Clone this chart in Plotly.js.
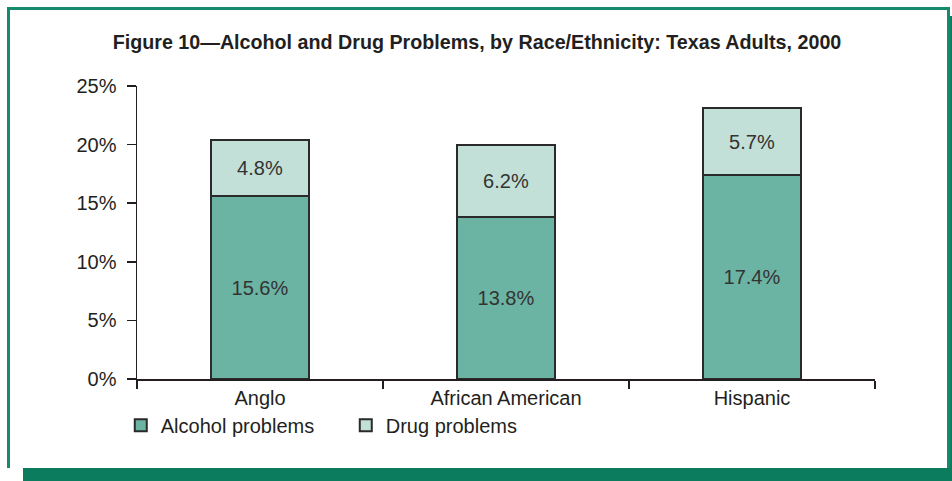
<!DOCTYPE html>
<html>
<head>
<meta charset="utf-8">
<script src="https://cdn.plot.ly/plotly-3.0.1.min.js"></script>
<style>
  html, body { margin: 0; padding: 0; background: #ffffff; }
  #wrap { position: relative; width: 952px; height: 481px; overflow: hidden; background: #ffffff; }
  #shadow { position: absolute; left: 23px; top: 16px; width: 929px; height: 465px; background: #0b7c5e; }
  #frame { position: absolute; left: 7px; top: 7px; width: 943px; height: 461px; background: #ffffff;
           border-left: 3px solid #168a6c; border-top: 3px solid #168a6c; border-right: 3px solid #168a6c; box-sizing: border-box; }
  #chart { position: absolute; left: 0; top: 0; width: 952px; height: 481px; }
</style>
</head>
<body>
<div id="wrap">
  <div id="shadow"></div>
  <div id="frame"></div>
  <div id="chart"></div>
</div>
<script>
const categories = ["Anglo", "African American", "Hispanic"];
const alcoholProblems = [15.6, 13.8, 17.4];
const drugProblems = [4.8, 6.2, 5.7];
const seriesNames = ["Alcohol problems", "Drug problems"];
const yTickValues = [0, 5, 10, 15, 20, 25];
const yTickLabels = ["0%", "5%", "10%", "15%", "20%", "25%"];
const titleText = "Figure 10—Alcohol and Drug Problems, by Race/Ethnicity: Texas Adults, 2000";

const textColor = "#231f20";
const baseFont = "Liberation Sans, Arial, sans-serif";

const traces = [
  {
    type: "bar", name: seriesNames[0], x: categories, y: alcoholProblems,
    marker: { color: "#6bb3a2", line: { color: "#2a2a2a", width: 2 } },
    texttemplate: "%{y:.1f}%", textposition: "inside", insidetextanchor: "middle",
    textfont: { family: baseFont, size: 20, color: "#333333" },
    hoverinfo: "none"
  },
  {
    type: "bar", name: seriesNames[1], x: categories, y: drugProblems,
    marker: { color: "#c2e0d7", line: { color: "#2a2a2a", width: 2 } },
    texttemplate: "%{y:.1f}%", textposition: "inside", insidetextanchor: "middle",
    textfont: { family: baseFont, size: 20, color: "#333333" },
    hoverinfo: "none"
  }
];

const layout = {
  width: 952, height: 481,
  paper_bgcolor: "rgba(0,0,0,0)", plot_bgcolor: "rgba(0,0,0,0)",
  margin: { l: 137, r: 77, t: 85.5, b: 101.5, pad: 0 },
  barmode: "stack", bargap: 0.6,
  font: { family: baseFont, size: 20, color: textColor },
  title: {
    text: "<b>" + titleText + "</b>",
    font: { family: baseFont, size: 19.7, color: textColor },
    x: 477 / 952, xref: "container", xanchor: "center",
    y: 1 - 42 / 481, yref: "container", yanchor: "middle"
  },
  xaxis: {
    type: "category", range: [-0.5, 2.5],
    showline: true, linecolor: "#231f20", linewidth: 2,
    ticks: "outside", tickson: "boundaries", ticklen: 8, tickwidth: 1.5, tickcolor: "#231f20",
    showgrid: false, zeroline: false,
    tickfont: { family: baseFont, size: 20, color: textColor }
  },
  yaxis: {
    range: [0, 25], tickmode: "array", tickvals: yTickValues, ticktext: yTickLabels,
    showline: true, linecolor: "#231f20", linewidth: 1.5,
    ticks: "outside", ticklen: 9, tickwidth: 1.5, tickcolor: "#231f20",
    showgrid: false, zeroline: false, ticklabelstandoff: 6,
    tickfont: { family: baseFont, size: 20, color: textColor }
  },
  legend: {
    orientation: "h", x: -0.022, xanchor: "left", y: -0.158, yanchor: "middle",
    traceorder: "normal", entrywidth: 180, entrywidthmode: "pixels",
    font: { family: baseFont, size: 20, color: textColor },
    bgcolor: "rgba(0,0,0,0)"
  },
  showlegend: true
};

Plotly.newPlot("chart", traces, layout, { displayModeBar: false, staticPlot: true });
</script>
</body>
</html>
